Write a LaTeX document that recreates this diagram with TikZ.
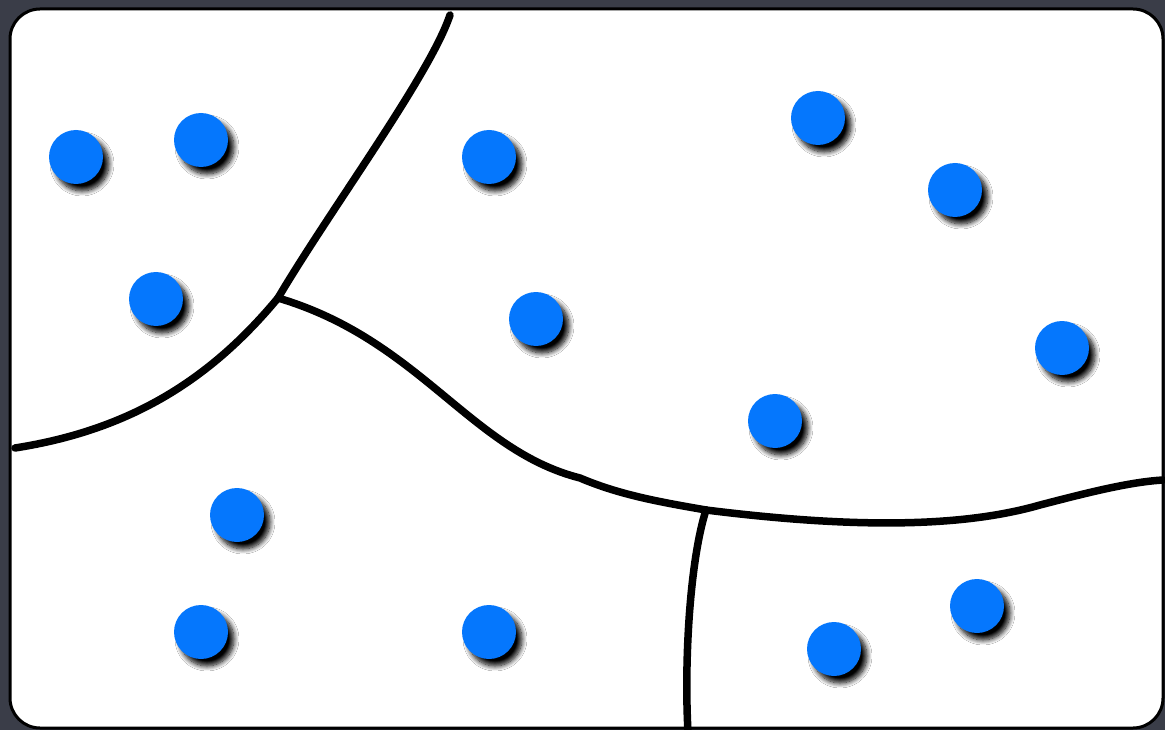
\documentclass[tikz,border=0pt]{standalone}
\usetikzlibrary{shadows.blur}
\definecolor{bgslate}{HTML}{3A3D48}
\definecolor{dotblue}{HTML}{0577FD}
\tikzset{
  dot/.style={circle, fill=dotblue, minimum size=54pt, inner sep=0pt,
    blur shadow={shadow xshift=6pt, shadow yshift=-7pt, shadow blur radius=5pt, shadow blur steps=10, shadow opacity=100}},
  border/.style={line width=7.5pt, line cap=round, line join=round, black}
}
\begin{document}
\begin{tikzpicture}[x=1pt,y=-1pt]
\fill[bgslate] (0,0) rectangle (1165,730);
\useasboundingbox (0,0) rectangle (1165,730);
\draw[fill=white, line width=3pt, rounded corners=30pt] (10,9) rectangle (1163,728);
% junctions
\coordinate (J1) at (278,298);
\coordinate (J2) at (706,510);
\coordinate (T) at (450,15);
\coordinate (L) at (15,448);
\coordinate (R) at (1163,480);
\coordinate (B) at (688,732);
\draw[border] (T) .. controls (430,75) and (330,210) .. (J1);
\draw[border] (J1) .. controls (210,380) and (130,430) .. (L);
\draw[border] (J1) .. controls (420,340) and (470,450) .. (580,478) .. controls (620,495) and (660,502) .. (J2);
\draw[border] (J2) .. controls (850,528) and (960,528) .. (1040,505) .. controls (1090,492) and (1130,482) .. (R);
\draw[border] (J2) .. controls (690,560) and (684,660) .. (B);
% dots
\node[dot] (d1) at (76,157) {};
\node[dot] (d2) at (201,140) {};
\node[dot] (d3) at (156,299) {};
\node[dot] (d4) at (489,157) {};
\node[dot] (d5) at (536,319) {};
\node[dot] (d6) at (818,118) {};
\node[dot] (d7) at (955,190) {};
\node[dot] (d8) at (1062,348) {};
\node[dot] (d9) at (775,421) {};
\node[dot] (d10) at (237,515) {};
\node[dot] (d11) at (201,632) {};
\node[dot] (d12) at (489,632) {};
\node[dot] (d13) at (834,649) {};
\node[dot] (d14) at (977,606) {};
\end{tikzpicture}
\end{document}
